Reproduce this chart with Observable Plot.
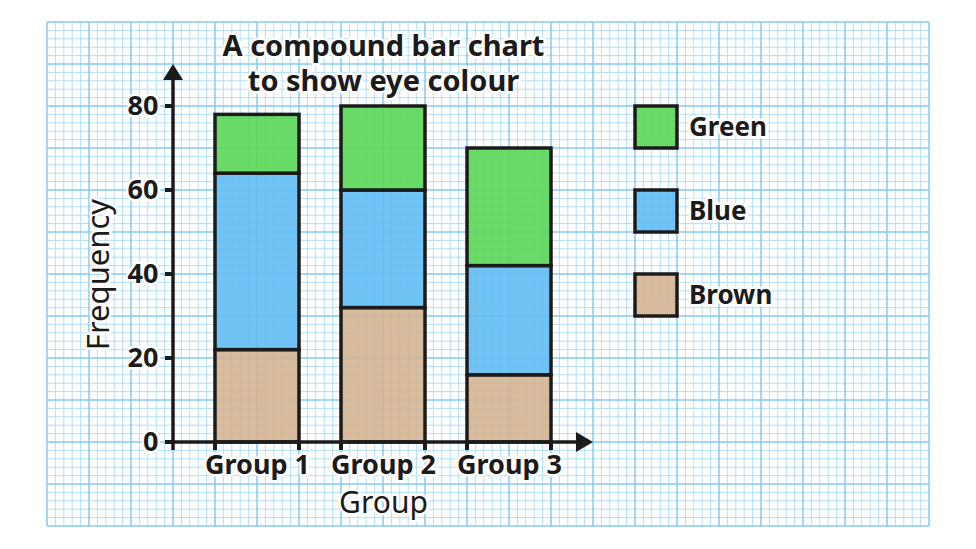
<!DOCTYPE html>
<html><head><meta charset="utf-8">
<script src="https://cdn.jsdelivr.net/npm/d3@7"></script>
<script src="https://cdn.jsdelivr.net/npm/@observablehq/plot@0.6"></script>
<style>
html,body{margin:0;padding:0;background:#fff;width:976px;height:549px;overflow:hidden}
#chart{position:relative;width:976px;height:549px}
#chart svg{display:block}
</style></head><body><div id="chart"></div>
<script>
const groups = ["Group 1", "Group 2", "Group 3"];
const colourNames = ["Brown", "Blue", "Green"];
const brownValues = [22, 32, 16];
const blueValues = [42, 28, 26];
const greenValues = [14, 20, 28];
const yTicks = [0, 20, 40, 60, 80];
const legendOrder = ["Green", "Blue", "Brown"];
const legendTops = [80, 60, 40];
const colourFills = ["#d4b491", "#62bcf5", "#5bd757"];
const titleLines = ["A compound bar chart", "to show eye colour"];
const xLabel = "Group";
const yLabel = "Frequency";

const series = {Brown: brownValues, Blue: blueValues, Green: greenValues};
const data = groups.flatMap((g, i) => colourNames.map(c => ({group: g, colour: c, value: series[c][i]})));

const W = 976, H = 549;
const font = "'Noto Sans', 'DejaVu Sans', sans-serif";
const ink = "#1b1b1b";
const halo = {stroke: "white", strokeWidth: 5, fill: ink, lineAnchor: "middle"};

const plot = Plot.plot({
  width: W, height: H,
  marginLeft: 173, marginRight: 383, marginTop: 106, marginBottom: 107,
  style: {background: "transparent", overflow: "visible", fontFamily: font},
  x: {domain: groups, paddingInner: 1/3, paddingOuter: 1/3, axis: null},
  y: {domain: [0, 80], axis: null},
  color: {domain: colourNames, range: colourFills},
  marks: [
    Plot.barY(data, {x: "group", y: "value", fill: {value: "colour", scale: "color"}, fillOpacity: 0.9, stroke: ink, strokeWidth: 3.5}),
    Plot.text(groups, {x: d => d, text: d => d, frameAnchor: "bottom", dy: 23, textAnchor: "middle", fontSize: 27, fontWeight: "bold", ...halo}),
    Plot.text(yTicks, {y: d => d, text: d => String(d), frameAnchor: "left", dx: -15, textAnchor: "end", fontSize: 27, fontWeight: "bold", ...halo}),
    Plot.text([xLabel], {text: d => d, frameAnchor: "bottom", dy: 61, textAnchor: "middle", fontSize: 30, ...halo}),
    Plot.text([yLabel], {text: d => d, frameAnchor: "left", dx: -74, rotate: -90, textAnchor: "middle", fontSize: 31, ...halo}),
    Plot.text([titleLines[0]], {text: d => d, frameAnchor: "top", dy: -60, textAnchor: "middle", fontSize: 29, fontWeight: "bold", ...halo}),
    Plot.text([titleLines[1]], {text: d => d, frameAnchor: "top", dy: -25, textAnchor: "middle", fontSize: 29, fontWeight: "bold", ...halo})
  ]
});

document.getElementById("chart").appendChild(plot);

const svg = d3.select(plot);
const xs = plot.scale("x"), ys = plot.scale("y");
const [xL, xR] = xs.range;
const y0 = ys.apply(0);
const unit = ys.apply(0) - ys.apply(1);      // px per frequency unit
const minor = 2 * unit, major = 10 * unit;   // graph-paper spacing

// graph paper background
const gridLeft = xL - 3 * major, gridRight = xL + 18 * major;
const gridBottom = y0 + 2 * major, gridTop = y0 - 10 * major;
const grid = svg.insert("g", ":first-child");
const minorG = grid.append("g").attr("stroke", "#b6dff8").attr("stroke-width", 1);
const majorG = grid.append("g").attr("stroke", "#86caf5").attr("stroke-width", 1.5);
const nx = Math.round((gridRight - gridLeft) / minor);
const ny = Math.round((gridBottom - gridTop) / minor);
for (let i = 0; i <= nx; i++) {
  const x = gridLeft + i * minor;
  (i % 5 === 0 ? majorG : minorG).append("line").attr("x1", x).attr("x2", x).attr("y1", gridTop).attr("y2", gridBottom);
}
for (let j = 0; j <= ny; j++) {
  const y = gridTop + j * minor;
  (j % 5 === 0 ? majorG : minorG).append("line").attr("x1", gridLeft).attr("x2", gridRight).attr("y1", y).attr("y2", y);
}

// axes
const ax = svg.append("g").attr("stroke", ink).attr("fill", ink);
const tick = 8;
const yTip = ys.apply(90);
ax.append("line").attr("x1", xL - tick).attr("x2", xR - 14).attr("y1", y0).attr("y2", y0).attr("stroke-width", 3.5);
ax.append("path").attr("stroke", "none").attr("d", `M${xR},${y0}L${xR - 17},${y0 - 10}L${xR - 17},${y0 + 10}Z`);
ax.append("line").attr("x1", xL).attr("x2", xL).attr("y1", y0 + tick).attr("y2", yTip + 14).attr("stroke-width", 3.5);
ax.append("path").attr("stroke", "none").attr("d", `M${xL},${yTip}L${xL - 10},${yTip + 16}L${xL + 10},${yTip + 16}Z`);
for (const v of yTicks) {
  const y = ys.apply(v);
  ax.append("line").attr("x1", xL - tick).attr("x2", xL).attr("y1", y).attr("y2", y).attr("stroke-width", 4);
}
for (const g of groups) {
  const a = xs.apply(g), b = a + xs.bandwidth;
  for (const x of [a, b]) ax.append("line").attr("x1", x).attr("x2", x).attr("y1", y0).attr("y2", y0 + tick).attr("stroke-width", 4);
}

// legend
const lg = svg.append("g").attr("font-family", font).attr("text-anchor", "start");
const lx = xR + major;
legendOrder.forEach((name, i) => {
  const top = ys.apply(legendTops[i]);
  const h = major;
  lg.append("rect").attr("x", lx).attr("y", top).attr("width", major).attr("height", h)
    .attr("fill", colourFills[colourNames.indexOf(name)]).attr("fill-opacity", 0.9)
    .attr("stroke", ink).attr("stroke-width", 3.5);
  lg.append("text").attr("x", lx + major + 12).attr("y", top + h / 2).attr("dy", "0.35em")
    .attr("font-size", 26).attr("font-weight", "bold").attr("fill", ink)
    .attr("stroke", "white").attr("stroke-width", 5).attr("paint-order", "stroke").text(name);
});
</script></body></html>
